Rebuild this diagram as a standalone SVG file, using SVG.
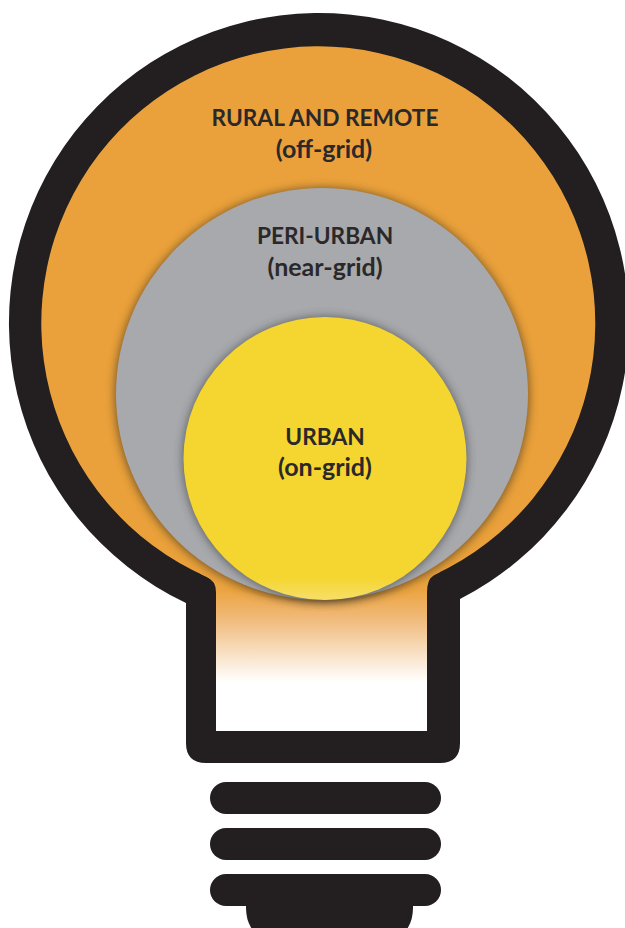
<svg xmlns="http://www.w3.org/2000/svg" width="625" height="928" viewBox="0 0 625 928">
<style>
.k{fill:#231f20}
.t{font-family:Lato,"Open Sans",sans-serif;font-weight:700;font-size:22.700px;fill:#2b282a;text-anchor:middle}
.s{font-size:25px}
</style>
<defs>
<linearGradient id="neck" gradientUnits="userSpaceOnUse" x1="0" y1="590" x2="0" y2="682">
<stop offset="0" stop-color="#eba440"/><stop offset="0.3" stop-color="#f0b978"/><stop offset="1" stop-color="#ffffff"/>
</linearGradient>
<linearGradient id="yel" gradientUnits="userSpaceOnUse" x1="0" y1="317" x2="0" y2="600">
<stop offset="0" stop-color="#f5d52f"/><stop offset="0.92" stop-color="#f5d52f"/><stop offset="1" stop-color="#f6df6a"/>
</linearGradient>
<filter id="sh" x="-10%" y="-10%" width="120%" height="120%"><feGaussianBlur stdDeviation="5"/></filter>
<clipPath id="inner"><path d="M207 577A277 277 0 1 1 434 575Q427 579 427 592V731H216V592Q216 581 207 577Z"/></clipPath>
</defs>
<g id="bulb">
<path class="k" d="M186 603A310 310 0 1 1 460 599V743Q460 763 440 763H206Q186 763 186 743Z"/>
<g clip-path="url(#inner)">
<rect x="200" y="560" width="240" height="175" fill="url(#neck)"/>
<circle cx="319" cy="323" r="279" fill="#eaa13b"/>
<circle cx="322" cy="395" r="207" fill="#5a4320" opacity="0.8" filter="url(#sh)"/>
</g>
</g>
<g id="rural"><text class="t" x="325" y="126">RURAL AND REMOTE</text><text class="t s" x="324" y="158">(off-grid)</text></g>
<g id="peri-urban">
<circle cx="322" cy="394" r="206" fill="#a7a9ac"/>
<circle cx="325" cy="459" r="142" fill="#3a3a3c" opacity="0.7" filter="url(#sh)"/>
<text class="t" x="325" y="244">PERI-URBAN</text><text class="t s" x="325" y="276">(near-grid)</text>
</g>
<g id="urban">
<circle cx="325" cy="458.500" r="141.500" fill="url(#yel)"/>
<text class="t" x="325" y="445">URBAN</text><text class="t s" x="325" y="476">(on-grid)</text>
</g>
<g id="base">
<rect class="k" x="210" y="782" width="231" height="32" rx="16"/>
<rect class="k" x="210" y="828" width="231" height="32" rx="16"/>
<rect class="k" x="210" y="874" width="231" height="32" rx="16"/>
<path class="k" d="M246 900H413V908Q413 922 405 932H254Q246 922 246 908Z"/>
</g>
<g id="connectors"/>
</svg>
